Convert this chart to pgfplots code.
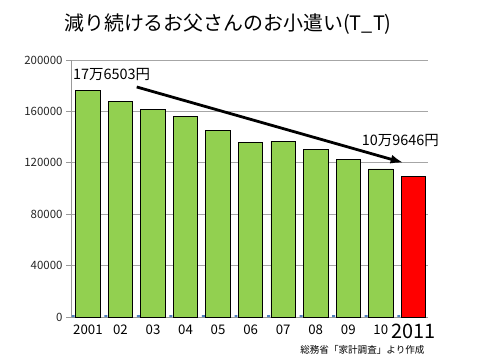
\documentclass[border=0pt]{standalone}
\usepackage{pgfplots}
\pgfplotsset{compat=1.18}
\usetikzlibrary{arrows.meta}
\usepackage{fontspec}
\setmainfont{Noto Sans CJK JP}
\definecolor{bargreen}{RGB}{146,208,80}
\definecolor{tinyblue}{RGB}{79,129,189}
\begin{document}
\begin{tikzpicture}
\useasboundingbox (0,0) rectangle (485bp,363bp);
\node[font=\fontsize{20}{22}\selectfont] at (228bp,339bp) {減り続けるお父さんのお小遣い(T\_T)};
\node[font=\fontsize{9.6}{11}\selectfont, anchor=east] at (428bp,13bp) {総務省「家計調査」より作成};
\begin{axis}[
  at={(71bp,46bp)}, anchor=south west,
  scale only axis, width=357bp, height=257bp,
  xmin=-0.52, xmax=10.45,
  ymin=0, ymax=200000,
  ytick={0,40000,80000,120000,160000,200000},
  scaled y ticks=false,
  /pgf/number format/fixed,
  /pgf/number format/set thousands separator={},
  /pgf/number format/assume math mode=true,
  yticklabel style={font=\fontsize{11.5}{13}\selectfont, text=black!85},
  xtick={0,...,10},
  xticklabels={2001,02,03,04,05,06,07,08,09,10,{\fontsize{20}{20}\selectfont 2011}},
  xticklabel style={font=\fontsize{13.3}{15}\selectfont, anchor=north, yshift=1bp},
  axis x line*=bottom, axis y line*=left,
  axis line style={draw=gray!80, line width=0.8pt, -},
  tick align=outside, major tick length=5bp,
  ytick style={draw=gray!80, line width=0.8pt},
  xtick style={draw=none},
  ymajorgrids, grid style={draw=gray!70, line width=0.8pt},
  clip=false,
]
\addplot[ybar, bar width=0.09, bar shift=-0.45, fill=tinyblue, draw=none] coordinates {
(0,1500) (1,1500) (2,1500) (3,1500) (4,1500) (5,1500) (6,1500) (7,1500) (8,1500) (9,1500) (10,1500)};
\addplot[ybar, bar width=0.75, bar shift=0, fill=bargreen, draw=black, line width=0.8pt] coordinates {
(0,176503) (1,167870) (2,161620) (3,156240) (4,145290) (5,136000) (6,136730) (7,130500) (8,122700) (9,115200)};
\addplot[ybar, bar width=0.72, bar shift=0, fill=red, draw=black, line width=0.8pt] coordinates {
(10,109646)};
\draw[-{Latex[length=13bp,width=9bp]}, line width=2.8pt] (axis cs:1.5,179000) -- (axis cs:9.7,120000);
\node[anchor=west, font=\fontsize{14.5}{16}\selectfont, inner sep=1bp] at (axis cs:-0.49,188500) {17万6503円};
\node[anchor=west, font=\fontsize{14.5}{16}\selectfont, inner sep=1bp] at (axis cs:8.38,137000) {10万9646円};
\end{axis}
\end{tikzpicture}
\end{document}
